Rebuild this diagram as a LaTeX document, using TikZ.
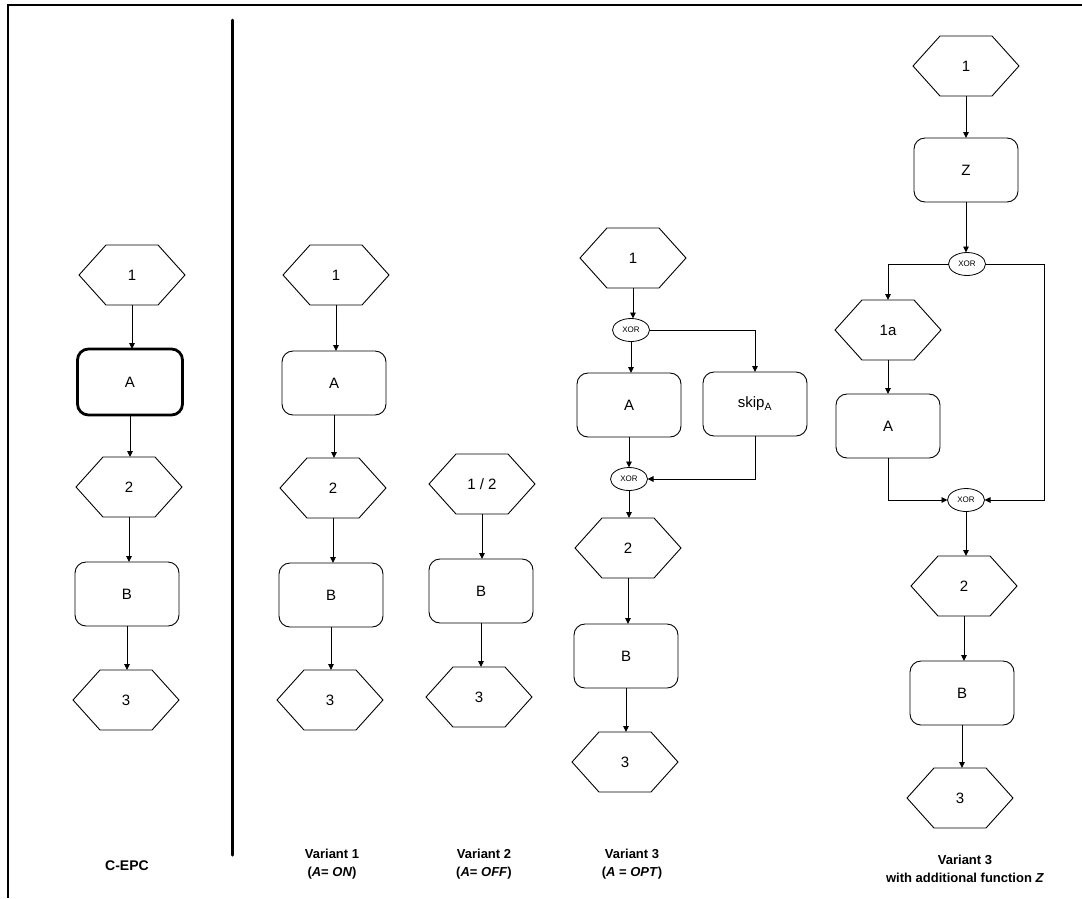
\documentclass[tikz,border=0pt]{standalone}
\usepackage{fontspec}
\setmainfont{Liberation Sans}
\usetikzlibrary{arrows.meta,shapes.geometric,calc}
\begin{document}
\begin{tikzpicture}[x=1pt,y=-1pt,
  every node/.style={font=\fontsize{15}{18}\selectfont},
  fn/.style={draw,rectangle,rounded corners=11pt,minimum width=104pt,minimum height=64pt,inner sep=0pt,outer sep=0pt,line width=0.9pt},
  fnbold/.style={fn,line width=2.8pt,minimum width=105pt,minimum height=66pt},
  hexev/.style={rectangle,minimum width=106pt,minimum height=60pt,inner sep=0pt,outer sep=0pt,
    append after command={\pgfextra{\let\LN\tikzlastnode
      \draw[line width=0.9pt] (\LN.west) -- ([xshift=27pt]\LN.north west) -- ([xshift=-27pt]\LN.north east) -- (\LN.east) -- ([xshift=-27pt]\LN.south east) -- ([xshift=27pt]\LN.south west) -- cycle;}}},
  xorc/.style={draw,ellipse,minimum width=37pt,minimum height=23pt,inner sep=0pt,outer sep=0pt,line width=0.8pt,font=\fontsize{8}{9}\selectfont},
  arr/.style={line width=0.9pt,-{Triangle[length=6pt,width=5.5pt]}},
  ln/.style={line width=0.9pt},
  lbl/.style={font=\bfseries\fontsize{13}{18}\selectfont,align=center}
]
\useasboundingbox (0,0) rectangle (1082,898);
% frame and separator
\draw[line width=2pt] (8,898) -- (8,5) -- (1082,5);
\draw[line width=3pt,line cap=round] (232,20) -- (232,855);

% Column 1: C-EPC
\node[hexev] (a1) at (132,275) {1};
\node[fnbold] (aA) at (130,382) {A};
\node[hexev] (a2) at (129,487) {2};
\node[fn] (aB) at (127,594) {B};
\node[hexev] (a3) at (126,700) {3};
\draw[arr] (a1.south) -- (a1.south |- aA.north);
\draw[arr] (aA.south) -- (aA.south |- a2.north);
\draw[arr] (a2.south) -- (a2.south |- aB.north);
\draw[arr] (aB.south) -- (aB.south |- a3.north);

% Column 2: Variant 1
\node[hexev] (b1) at (336,275) {1};
\node[fn] (bA) at (334,383) {A};
\node[hexev] (b2) at (333,488) {2};
\node[fn] (bB) at (331,595) {B};
\node[hexev] (b3) at (330,700) {3};
\draw[arr] (b1.south) -- (b1.south |- bA.north);
\draw[arr] (bA.south) -- (bA.south |- b2.north);
\draw[arr] (b2.south) -- (b2.south |- bB.north);
\draw[arr] (bB.south) -- (bB.south |- b3.north);

% Column 3: Variant 2
\node[hexev] (c12) at (482,484) {1 / 2};
\node[fn] (cB) at (481,591) {B};
\node[hexev] (c3) at (479,697) {3};
\draw[arr] (c12.south) -- (c12.south |- cB.north);
\draw[arr] (cB.south) -- (cB.south |- c3.north);

% Column 4: Variant 3
\node[hexev] (d1) at (633,258) {1};
\node[xorc] (dx1) at (631,330) {XOR};
\node[fn] (dA) at (629,405) {A};
\node[fn] (dS) at (755,404) {skip\textsubscript{A}};
\node[xorc] (dx2) at (629,479) {XOR};
\node[hexev] (d2) at (628,548) {2};
\node[fn] (dB) at (626,656) {B};
\node[hexev] (d3) at (625,762) {3};
\draw[arr] (d1.south) -- (d1.south |- dx1.north);
\draw[arr] (dx1.south) -- (dx1.south |- dA.north);
\draw[arr] (dx1.east) -| (dS.north);
\draw[arr] (dA.south) -- (dA.south |- dx2.north);
\draw[arr] (dS.south) |- (dx2.east);
\draw[arr] (dx2.south) -- (dx2.south |- d2.north);
\draw[arr] (d2.south) -- (d2.south |- dB.north);
\draw[arr] (dB.south) -- (dB.south |- d3.north);

% Column 5: Variant 3 with additional function Z
\node[hexev] (e1) at (966,66) {1};
\node[fn] (eZ) at (966,170) {Z};
\node[xorc] (ex1) at (967,264) {XOR};
\node[hexev] (e1a) at (888,330) {1a};
\node[fn] (eA) at (888,426) {A};
\node[xorc] (ex2) at (966,500) {XOR};
\node[hexev] (e2) at (964,586) {2};
\node[fn] (eB) at (962,693) {B};
\node[hexev] (e3) at (960,798) {3};
\coordinate (eR) at (1044,264);
\draw[arr] (e1.south) -- (e1.south |- eZ.north);
\draw[arr] (eZ.south) -- (eZ.south |- ex1.north);
\draw[arr] (ex1.west) -| (e1a.north);
\draw[arr] (e1a.south) -- (e1a.south |- eA.north);
\draw[arr] (eA.south) |- (ex2.west);
\draw[ln] (ex1.east) -- (eR);
\draw[arr] (eR) |- (ex2.east);
\draw[arr] (ex2.south) -- (ex2.south |- e2.north);
\draw[arr] (e2.south) -- (e2.south |- eB.north);
\draw[arr] (eB.south) -- (eB.south |- e3.north);

% labels
\node[lbl,font=\bfseries\fontsize{14}{18}\selectfont] (lc) at (127,866) {C-EPC};
\node[lbl] (l1) at (332,864) {Variant 1\\(\textit{A}= \textit{ON})};
\node[lbl] (l2) at (484,864) {Variant 2\\(\textit{A}= \textit{OFF})};
\node[lbl] (l3) at (632,864) {Variant 3\\(\textit{A} = \textit{OPT})};
\node[lbl] (l4) at (965,869) {Variant 3\\with additional function \textit{Z}};
\end{tikzpicture}
\end{document}
